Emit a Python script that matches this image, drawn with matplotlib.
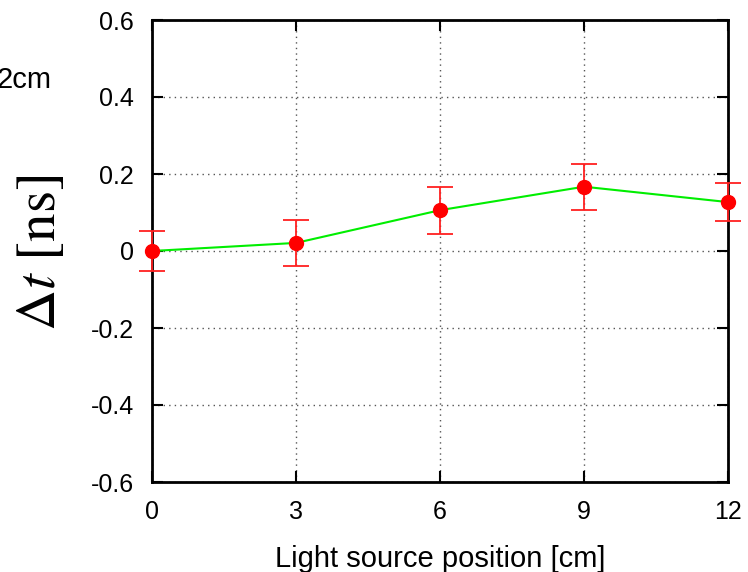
import matplotlib.pyplot as plt

positions = [0, 3, 6, 9, 12]
delta_t = [0.0, 0.021, 0.106, 0.167, 0.127]
delta_t_err = [0.053, 0.060, 0.061, 0.060, 0.050]
x_ticks = [0, 3, 6, 9, 12]
y_ticks = [-0.6, -0.4, -0.2, 0, 0.2, 0.4, 0.6]
y_tick_labels = ['-0.6', '-0.4', '-0.2', '0', '0.2', '0.4', '0.6']

plt.rcParams['font.family'] = ['Liberation Sans', 'DejaVu Sans']
plt.rcParams['mathtext.fontset'] = 'stix'

fig = plt.figure(figsize=(7.48, 5.72), dpi=100)
ax = fig.add_axes([152 / 748, 1 - 482 / 572, 576 / 748, 462 / 572])

# green connecting line, then red error bars and dots
ax.plot(positions, delta_t, color='#00ee00', lw=1.5, zorder=3, clip_on=False)
ax.errorbar(positions, delta_t, yerr=delta_t_err, fmt='none', ecolor='#ff2020',
            elinewidth=1.3, capsize=9.5, capthick=1.3, zorder=4, clip_on=False)
ax.plot(positions, delta_t, 'o', color='#ff0000', ms=10, zorder=5, clip_on=False)

ax.set_xlim(0, 12)
ax.set_ylim(-0.6, 0.6)
ax.set_xticks(x_ticks)
ax.set_yticks(y_ticks)
ax.set_yticklabels(y_tick_labels)
ax.grid(True, color='#555555', linestyle=(0, (1, 3)), lw=1)
ax.tick_params(direction='in', length=8, width=1.5, top=True, right=True,
               labelsize=18)
ax.tick_params(axis='x', pad=13)
ax.tick_params(axis='y', pad=13)
for s in ax.spines.values():
    s.set_linewidth(2)

fig.text(440 / 748, 1 - 567 / 572, 'Light source position [cm]', fontsize=21,
         ha='center', va='baseline')
fig.text(40 / 748, 1 - 253 / 572, r'$\Delta t\ [\mathrm{ns}]$', rotation=90,
         fontsize=41, ha='center', va='center')
fig.text(52 / 748, 1 - 88 / 572, '2cm', fontsize=21, ha='right', va='baseline')

fig.savefig('out.png', dpi=100)
